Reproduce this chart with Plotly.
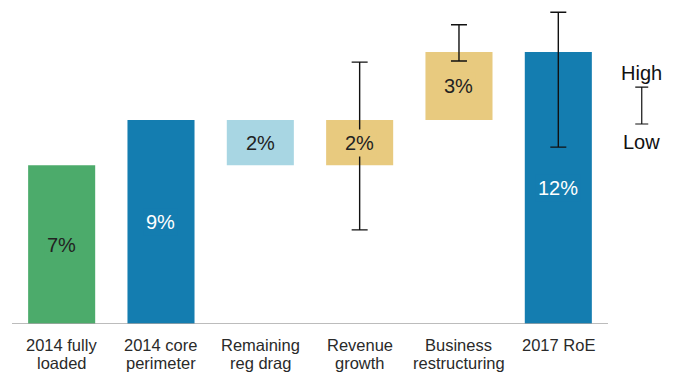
import plotly.graph_objects as go

# RoE bridge, 2014 -> 2017 (percentage points)
categories = [["2014 fully", "loaded"], ["2014 core", "perimeter"], ["Remaining", "reg drag"],
              ["Revenue", "growth"], ["Business", "restructuring"], ["2017 RoE"]]
values = [7, 9, -2, 2, 3, 12]
kinds = ["total", "total", "delta", "delta", "delta", "total"]
colors = ["#4CAB6B", "#147DB0", "#A8D6E3", "#E8CA7F", "#E8CA7F", "#147DB0"]
text_colors = ["#222222", "#FFFFFF", "#222222", "#222222", "#222222", "#FFFFFF"]

# High / low ranges shown as whiskers
range_idx = [3, 4, 5]
range_low = [4.15, 11.6, 7.8]
range_high = [11.55, 13.2, 13.75]

FONT = "Liberation Sans, Arial, sans-serif"

# Floating bar bases from a running total
bases, running = [], 0
for v, k in zip(values, kinds):
    if k == "total":
        bases.append(0)
        running = v
    else:
        bases.append(running)
        running += v
labels = [f"{abs(v)}%" for v in values]
xs = list(range(len(categories)))

fig = go.Figure()
fig.add_trace(go.Bar(
    x=xs, y=values, base=bases, width=0.675,
    marker=dict(color=colors, line=dict(width=0)),
    showlegend=False, hoverinfo="skip",
))

mid = [(lo + hi) / 2 for lo, hi in zip(range_low, range_high)]
fig.add_trace(go.Scatter(
    x=range_idx, y=mid, mode="markers",
    marker=dict(size=1, opacity=0),
    error_y=dict(type="data", symmetric=False,
                 array=[h - m for h, m in zip(range_high, mid)],
                 arrayminus=[m - l for l, m in zip(range_low, mid)],
                 color="#111111", thickness=1.4, width=8),
    showlegend=False, hoverinfo="skip",
))

# Value labels sit on a patch of the bar colour so whiskers pass behind them
for i, (b, v) in enumerate(zip(bases, values)):
    fig.add_annotation(x=i, y=b + v / 2, text=labels[i], showarrow=False,
                       bgcolor=colors[i], borderpad=2,
                       font=dict(size=20, color=text_colors[i], family=FONT))

# Key: a sample whisker with High / Low captions
key_x = 5.84
key_low, key_high = 8.82, 10.45
key_mid = (key_low + key_high) / 2
fig.add_trace(go.Scatter(
    x=[key_x], y=[key_mid], mode="markers",
    marker=dict(size=1, opacity=0),
    error_y=dict(type="data", symmetric=False,
                 array=[key_high - key_mid], arrayminus=[key_mid - key_low],
                 color="#111111", thickness=1.2, width=6.5),
    showlegend=False, hoverinfo="skip",
))
fig.add_annotation(x=key_x, y=11.07, text="High", showarrow=False,
                   font=dict(size=20, color="#111111", family=FONT))
fig.add_annotation(x=key_x, y=8.03, text="Low", showarrow=False,
                   font=dict(size=20, color="#111111", family=FONT))

# Category labels, two tightly spaced lines under each bar
for i, lines in enumerate(categories):
    for j, line in enumerate(lines):
        fig.add_annotation(x=i, xref="x", y=0, yref="paper", yanchor="middle",
                           yshift=-21 - 18 * j, text=line, showarrow=False,
                           font=dict(size=16.5, color="#2A2A2A", family=FONT))

# Baseline under the bars only
fig.add_shape(type="line", x0=-0.5, x1=len(categories) - 0.5, y0=0, y1=0,
              xref="x", yref="y", line=dict(color="#A6A6A6", width=1.5))

fig.update_layout(
    width=679, height=373,
    margin=dict(l=12, r=0, t=0, b=49),
    paper_bgcolor="white", plot_bgcolor="white",
    font=dict(family=FONT, color="#222222"),
    xaxis=dict(range=[-0.5, 6.215], showticklabels=False,
               showgrid=False, zeroline=False, showline=False, ticks="",
               fixedrange=True),
    yaxis=dict(range=[0, 14.29], visible=False, fixedrange=True),
)

fig.write_html("out.html")
